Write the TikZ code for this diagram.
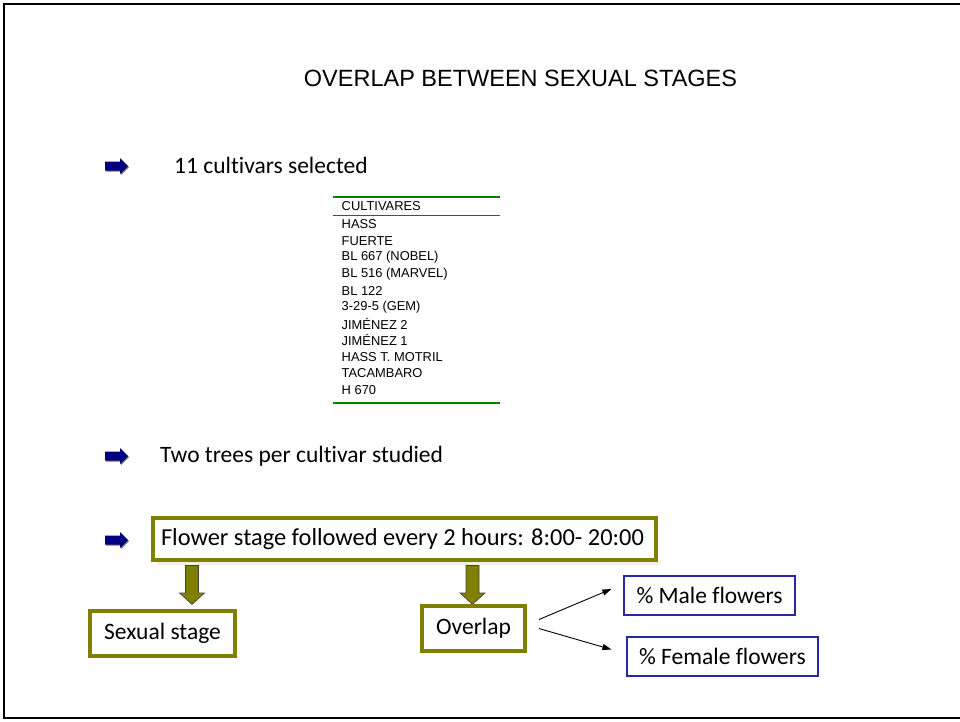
\documentclass[tikz,border=0pt]{standalone}
\usepackage{fontspec}
\setmainfont{Carlito}[Ligatures=NoCommon]
\newfontfamily\arialf{Liberation Sans}
\usetikzlibrary{arrows.meta,calc}
\definecolor{navyb}{RGB}{0,0,128}
\definecolor{olivec}{RGB}{128,128,0}
\definecolor{tgreen}{RGB}{0,128,0}
\definecolor{bbox}{RGB}{40,40,160}
\tikzset{
  pics/bulletarr/.style={code={
    \fill[black!55] (-11.5+1,-4.5+1) -- (3.5+1,-4.5+1) -- (3.5+1,-8+1) -- (11.5+1,0+1)
      -- (3.5+1,8+1) -- (3.5+1,4.5+1) -- (-11.5+1,4.5+1) -- cycle;
    \fill[navyb] (-11.5,-4.5) -- (3.5,-4.5) -- (3.5,-8) -- (11.5,0)
      -- (3.5,8) -- (3.5,4.5) -- (-11.5,4.5) -- cycle;}},
  pics/downarr/.style={code={
    \filldraw[fill=olivec, draw=black!75, line width=0.6pt]
      (-6.5,-19.5) -- (6.5,-19.5) -- (6.5,8) -- (12.5,8) -- (0,19.5)
      -- (-12.5,8) -- (-6.5,8) -- cycle;}},
  body/.style={font=\fontsize{23.5}{26}\selectfont, inner sep=0pt, anchor=west},
  obox/.style={draw=olivec, line width=4pt, fill=white, font=\fontsize{23.5}{26}\selectfont,
    inner sep=0pt},
  bluebox/.style={draw=bbox, line width=1.2pt, fill=white, font=\fontsize{23.5}{26}\selectfont,
    inner sep=0pt},
  trow/.style={font=\arialf\fontsize{12.9}{14}\selectfont, inner sep=0pt, anchor=west},
  conn/.style={line width=0.9pt, -{Triangle[length=9pt,width=6pt]}}
}
\begin{document}
\begin{tikzpicture}[x=1pt,y=-1pt]
\useasboundingbox (0,0) rectangle (960,721);
% frame
\draw[line width=2.6pt] (961,4) -- (4,4) -- (4,718) -- (961,718);
% title
\node[font=\arialf\fontsize{23.5}{26}\selectfont, inner sep=0pt] (title) at (520.5,78) {OVERLAP BETWEEN SEXUAL STAGES};
% bullets and texts
\pic at (116.5,166) {bulletarr};
\node[body] (t1) at (174,165) {11 cultivars selected};
\pic at (116.5,456) {bulletarr};
\node[body] (t2) at (160,456) {Two trees per cultivar studied};
\pic at (116.5,540) {bulletarr};
% table
\draw[tgreen, line width=2pt] (333,197) coordinate (tl1) -- (500,197) coordinate (tr1);
\draw[tgreen, line width=1pt] (333,215) coordinate (tl2) -- (500,215) coordinate (tr2);
\draw[tgreen, line width=2pt] (333,403) coordinate (tl3) -- (500,403) coordinate (tr3);
\node[trow] (hdr) at (341.5,205.7) {CULTIVARES};
\foreach \txt [count=\i from 0] in {HASS,FUERTE,BL 667 (NOBEL),BL 516 (MARVEL),BL 122,3-29-5 (GEM),JIMÉNEZ 2,JIMÉNEZ 1,HASS T. MOTRIL,TACAMBARO,H 670}{
  \node[trow] (r\i) at (341.5,224.3+16.57*\i) {\txt};
}
% flower box
\fill[olivec!12] (157,562) rectangle (660,565);
\node[obox, minimum height=42pt, inner xsep=8pt, font=\fontsize{24.4}{27}\selectfont] (flower) at (404.5,539) {\hbox to 487pt{Flower stage followed every 2 hours: 8:00- 20:00\hfil}};
% down arrows
\pic at (192,585) {downarr};
\pic at (472.5,585) {downarr};
% sub boxes
\node[obox, minimum width=145pt, minimum height=45pt] (sexual) at (162.5,633.5) {Sexual stage};
\node[obox, minimum width=103pt, minimum height=45pt] (overlap) at (473.5,628.5) {Overlap};
\node[bluebox, minimum width=171pt, minimum height=39pt] (male) at (709.5,595.5) {\% Male flowers};
\node[bluebox, minimum width=191pt, minimum height=39pt] (female) at (722.5,656.5) {\% Female flowers};
% connectors
\draw[conn] ([xshift=12pt,yshift=9pt]overlap.east) -- ([xshift=-12pt,yshift=6.5pt]male.west);
\draw[conn] ([xshift=12pt,yshift=0pt]overlap.east) -- ([xshift=-15pt,yshift=7pt]female.west);
\end{tikzpicture}
\end{document}
